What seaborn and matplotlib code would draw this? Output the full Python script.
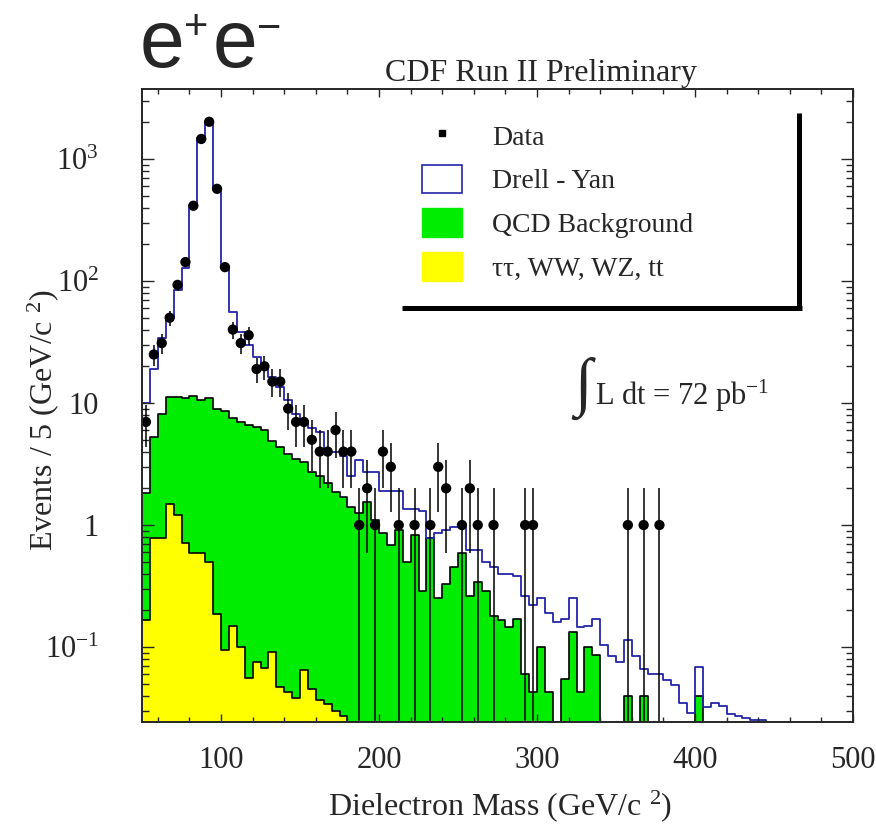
import numpy as np
import pandas as pd
import matplotlib
matplotlib.use("Agg")
import matplotlib.pyplot as plt
from matplotlib.lines import Line2D
from matplotlib.patches import Patch
from matplotlib.ticker import LogLocator, MultipleLocator, NullFormatter
import seaborn as sns

# 5 GeV/c^2 mass bins between 50 and 450 GeV/c^2
bin_width = 5
mass_range = (50, 450)
bin_centers = np.arange(mass_range[0], mass_range[1], bin_width) + bin_width / 2

# Drell-Yan expectation per bin (events / 5 GeV/c^2)
drell_yan = [
    10, 19, 34, 50, 85, 127, 419, 1480, 1970, 575,
    130, 56, 38, 30, 24, 20, 16.5, 13.5, 10.5, 8.2,
    7.0, 6.3, 5.8, 4.0, 4.0, 3.7, 2.5, 3.4, 2.7, 2.7,
    1.9, 1.9, 1.9, 1.35, 1.35, 1.3, 0.78, 0.86, 0.91, 0.96,
    0.96, 0.62, 0.62, 0.5, 0.45, 0.4, 0.4, 0.38, 0.26, 0.22,
    0.25, 0.19, 0.16, 0.17, 0.25, 0.147, 0.15, 0.17, 0.104, 0.085,
    0.075, 0.114, 0.085, 0.066, 0.06, 0.06, 0.054, 0.049, 0.035, 0.029,
    0.069, 0.032, 0.035, 0.033, 0.028, 0.027, 0.026, 0.025, 0.025, 0.024,
]

# QCD (fake electron) background per bin
qcd_background = [
    1.83, 5.3, 8.1, 11.3, 11.3, 11.0, 11.4, 10.5, 10.9, 9.0,
    8.6, 7.6, 7.0, 6.6, 6.4, 6.0, 4.9, 4.35, 3.85, 3.5,
    3.3, 2.7, 2.5, 2.2, 1.85, 1.7, 1.4, 1.25, 1.55, 1.1,
    0.86, 0.69, 0.91, 0.5, 0.83, 0.29, 0.78, 0.25, 0.33, 0.45,
    0.59, 0.26, 0.34, 0.29, 0.18, 0.167, 0.147, 0.17, 0.06, 0.043,
    0.1, 0.043, 0, 0.055, 0.134, 0.043, 0.1, 0.086, 0, 0,
    0, 0.04, 0, 0.04, 0, 0, 0, 0, 0, 0,
    0.04, 0, 0, 0, 0, 0, 0, 0, 0, 0,
]

# tau-tau, WW, WZ, ttbar per bin
other_background = [
    0.166, 0.78, 0.78, 1.5, 1.2, 0.71, 0.59, 0.59, 0.5, 0.185,
    0.095, 0.15, 0.1, 0.056, 0.076, 0.067, 0.091, 0.047, 0.043, 0.038,
    0.065, 0.045, 0.037, 0.034, 0.03, 0.027, 0, 0, 0, 0,
    0, 0, 0, 0, 0, 0, 0, 0, 0, 0,
    0, 0, 0, 0, 0, 0, 0, 0, 0, 0,
    0, 0, 0, 0, 0, 0, 0, 0, 0, 0,
    0, 0, 0, 0, 0, 0, 0, 0, 0, 0,
    0, 0, 0, 0, 0, 0, 0, 0, 0, 0,
]

# Observed events (non-empty bins only)
data_mass = [
    52.5, 57.5, 62.5, 67.5, 72.5, 77.5, 82.5, 87.5, 92.5, 97.5,
    102.5, 107.5, 112.5, 117.5, 122.5, 127.5, 132.5, 137.5, 142.5, 147.5,
    152.5, 157.5, 162.5, 167.5, 172.5, 177.5, 182.5, 187.5, 192.5, 197.5,
    202.5, 207.5, 212.5, 222.5, 232.5, 237.5, 242.5, 252.5, 257.5, 262.5,
    272.5, 292.5, 297.5, 357.5, 367.5, 377.5,
]
data_events = [
    7, 25, 31, 50, 93, 143, 414, 1460, 2020, 570,
    130, 40, 31, 36, 19, 20, 15, 15, 9, 7,
    7, 5, 4, 4, 6, 4, 4, 1, 2, 1,
    4, 3, 1, 1, 1, 3, 2, 1, 2, 1,
    1, 1, 1, 1, 1, 1,
]

x_ticks = [100, 200, 300, 400, 500]
x_tick_labels = ["100", "200", "300", "400", "500"]
y_ticks = [0.1, 1, 10, 100, 1000]
y_tick_labels = [r"$10^{-1}$", "1", "10", r"$10^{2}$", r"$10^{3}$"]
legend_labels = ["Data", "Drell - Yan", "QCD Background", "ττ, WW, WZ, tt"]

green = "#00ec00"
yellow = "#ffff00"
blue = "#2424a8"

sns.set_style("ticks")
plt.rcParams["font.family"] = ["Liberation Serif", "DejaVu Serif"]
plt.rcParams["mathtext.fontset"] = "custom"
plt.rcParams["mathtext.rm"] = "Liberation Serif"
plt.rcParams["mathtext.it"] = "Liberation Serif:italic"
plt.rcParams["mathtext.bf"] = "Liberation Serif:bold"

W, H = 876, 833
fig = plt.figure(figsize=(W / 100, H / 100), dpi=100)
ax = fig.add_axes([142 / W, 1 - 722 / H, 711 / W, 633 / H])

hist = pd.DataFrame({
    "mass": bin_centers,
    "dy": drell_yan,
    "qcd": qcd_background,
    "other": other_background,
})
hist_kws = dict(data=hist, x="mass", binwidth=bin_width, binrange=mass_range,
                element="step", ax=ax)

# filled backgrounds
sns.histplot(weights="qcd", fill=True, color=green, alpha=1, linewidth=0,
             zorder=1, **hist_kws)
sns.histplot(weights="other", fill=True, color=yellow, alpha=1, linewidth=0,
             zorder=1.1, **hist_kws)
# black outlines of the backgrounds
sns.histplot(weights="qcd", fill=False, color="black", linewidth=1.2,
             zorder=2, **hist_kws)
sns.histplot(weights="other", fill=False, color="black", linewidth=1.2,
             zorder=2.1, **hist_kws)
# Drell-Yan expectation
sns.histplot(weights="dy", fill=False, color=blue, linewidth=1.3,
             zorder=2.5, **hist_kws)

# data with Poisson errors
n = np.asarray(data_events, dtype=float)
err = np.sqrt(n)
ax.errorbar(data_mass, n, yerr=[err, err], fmt="none", ecolor="black",
            elinewidth=1.1, capsize=0, zorder=4)
sns.scatterplot(x=data_mass, y=n, color="black", s=55, marker="o",
                edgecolor="none", ax=ax, zorder=5)

ax.set_yscale("log")
ax.set_xlim(50, 500)
ax.set_ylim(0.0243, 3750)

ax.set_xticks(x_ticks, labels=x_tick_labels)
ax.xaxis.set_minor_locator(MultipleLocator(20))
ax.set_yticks(y_ticks, labels=y_tick_labels)
ax.yaxis.set_minor_locator(LogLocator(base=10, subs=np.arange(2, 10)))
ax.yaxis.set_minor_formatter(NullFormatter())

ax.tick_params(axis="both", which="both", direction="in", top=True, right=True,
               width=1.0, labelsize=22)
ax.tick_params(axis="x", which="major", length=6, pad=17)
ax.tick_params(axis="x", which="minor", length=3.5)
ax.tick_params(axis="y", which="major", length=8.5, pad=31)
ax.tick_params(axis="y", which="minor", length=5)
for side in ax.spines.values():
    side.set_linewidth(1.4)
    side.set_zorder(6)
ax.set_axisbelow(False)

ax.set_xlabel("Dielectron Mass (GeV/c $^{2}$)", fontsize=23)
ax.set_ylabel("Events / 5 (GeV/c $^{2}$)", fontsize=23)
ax.xaxis.label.set_va("center")
ax.yaxis.label.set_va("center")
ax.xaxis.set_label_coords((500 - 142) / 711, (722 - 806) / 633)
ax.yaxis.set_label_coords((43 - 142) / 711, (722 - 420) / 633)

# legend
handles = [
    Line2D([], [], marker="s", color="black", linestyle="none", markersize=5),
    Patch(facecolor="white", edgecolor=blue, linewidth=1.2),
    Patch(facecolor=green, edgecolor=green),
    Patch(facecolor=yellow, edgecolor=yellow),
]
ax.legend(handles, legend_labels, loc="upper left",
          bbox_to_anchor=(422 / W, 1 - 121 / H), bbox_transform=fig.transFigure,
          frameon=False, fontsize=20, handlelength=1.43, handleheight=1.22,
          labelspacing=0.5, handletextpad=1.1, borderpad=0, borderaxespad=0)
# legend box shadow (right and bottom edges)
fig.add_artist(Line2D([799 / W, 799 / W], [1 - 113 / H, 1 - 310 / H],
                      transform=fig.transFigure, color="black", linewidth=3.6,
                      solid_capstyle="butt"))
fig.add_artist(Line2D([402 / W, 801.5 / W], [1 - 307.5 / H, 1 - 307.5 / H],
                      transform=fig.transFigure, color="black", linewidth=3.6,
                      solid_capstyle="butt"))

# luminosity
fig.text(574 / W, 1 - 388 / H, "∫", fontsize=46, ha="left", va="center")
fig.text(595 / W, 1 - 405 / H, "L dt = 72 pb$^{-1}$", fontsize=22,
         ha="left", va="baseline")

# headers
fig.text(541 / W, 1 - 81 / H, "CDF Run II Preliminary", fontsize=23,
         ha="center", va="baseline")
sans = ["Liberation Sans", "DejaVu Sans"]
fig.text(140 / W, 1 - 67 / H, "e", fontsize=58, family=sans, ha="left", va="baseline")
fig.text(184 / W, 1 - 28 / H, "+", fontsize=30, family=sans, ha="left", va="center")
fig.text(213 / W, 1 - 67 / H, "e", fontsize=58, family=sans, ha="left", va="baseline")
fig.text(257 / W, 1 - 29 / H, "\u2212", fontsize=30, family=sans, ha="left", va="center")

fig.savefig("out.png", dpi=100)
